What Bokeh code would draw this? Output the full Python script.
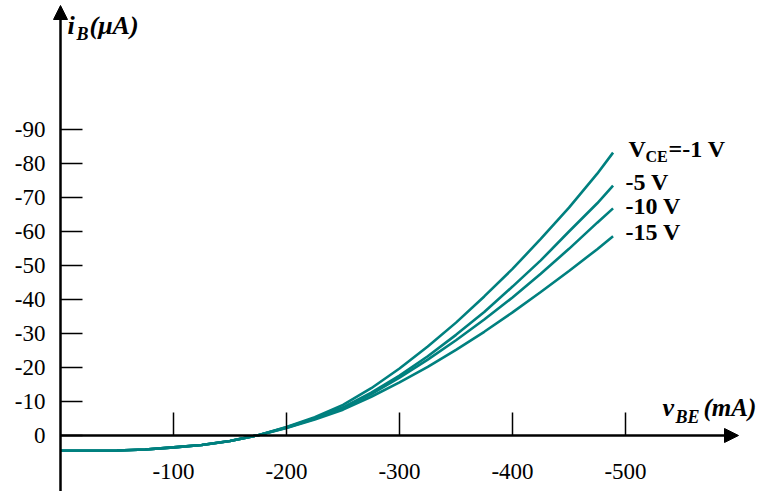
from bokeh.plotting import figure
from bokeh.models import Range1d, LinearAxis, FixedTicker, Arrow, NormalHead
from bokeh.core.properties import value
from bokeh.embed import file_html
from bokeh.resources import INLINE

# ---- data (vBE in mV, iB in uA) ----
vbe = [0, -25, -50, -75, -100, -125, -150, -175, -200, -225, -250, -275, -300,
       -325, -350, -375, -400, -425, -450, -475, -489]
low = [4.5, 4.5, 4.4, 4.1, 3.5, 2.8, 1.6, -0.1]
ib_1 = low + [-2.5, -5.4, -9.0, -13.9, -19.7, -26.2, -33.2, -40.9, -49.0, -57.8, -67.0, -77.0, -83.2]
ib_5 = low + [-2.4, -5.1, -8.3, -12.6, -17.6, -23.3, -29.6, -36.3, -43.8, -51.5, -60.0, -68.3, -73.5]
ib_10 = low + [-2.3, -4.9, -8.0, -12.2, -17.0, -22.3, -28.0, -34.1, -40.6, -47.6, -54.9, -62.6, -66.8]
ib_15 = low + [-2.2, -4.7, -7.6, -11.4, -15.6, -20.2, -25.2, -30.5, -36.2, -42.2, -48.4, -54.8, -58.6]
series = [ib_1, ib_5, ib_10, ib_15]
curve_labels = ["-5 V", "-10 V", "-15 V"]
x_ticks = [-100, -200, -300, -400, -500]
y_ticks = [0, -10, -20, -30, -40, -50, -60, -70, -80, -90]

W, H = 763, 491
# pixel-to-data helpers for annotation placement
def dx(sx):
    return -(sx - 60) / 1.13
def dy(sy):
    return -(435 - sy) / 3.4

p = figure(width=W, height=H, output_backend="svg", toolbar_location=None,
           x_range=Range1d(dx(0), dx(W)), y_range=Range1d(dy(H), dy(0)),
           x_axis_location=None, y_axis_location=None, min_border=0,
           background_fill_color="white", border_fill_color="white")
p.grid.visible = False
p.outline_line_color = None

TEAL = "#00807f"
for s in series:
    p.line(vbe, s, line_color=TEAL, line_width=2.6)

FONT = "Liberation Serif"
yax = LinearAxis(fixed_location=0, ticker=FixedTicker(ticks=y_ticks),
                 major_label_overrides={t: str(t) for t in y_ticks},
                 major_tick_in=22, major_tick_out=0, minor_tick_line_color=None,
                 major_tick_line_width=1.5, axis_line_color=None,
                 major_label_standoff=15, major_label_text_font=FONT,
                 major_label_text_font_size="23px", major_label_text_color="black")
xax = LinearAxis(fixed_location=0, ticker=FixedTicker(ticks=x_ticks),
                 major_label_overrides={t: str(t) for t in x_ticks},
                 major_tick_in=23, major_tick_out=0, minor_tick_line_color=None,
                 major_tick_line_width=1.5, axis_line_color=None,
                 major_label_standoff=28, major_label_text_font=FONT,
                 major_label_text_font_size="23px", major_label_text_color="black")
p.add_layout(yax, "left")
p.add_layout(xax, "below")

p.add_layout(Arrow(x_start=0, y_start=dy(H), x_end=0, y_end=dy(5), line_width=2.5,
                   end=NormalHead(size=14, fill_color="black", line_color="black")))
p.add_layout(Arrow(x_start=0, y_start=0, x_end=dx(738), y_end=0, line_width=2.5,
                   end=NormalHead(size=14, fill_color="black", line_color="black")))

bi = dict(text_font=value(FONT), text_font_style="bold italic", text_color="black",
          text_baseline="alphabetic", text_align="left")
p.text(x=[dx(67)], y=[dy(25)], text=["i"], text_font_size="26px", **bi)
p.text(x=[dx(76)], y=[dy(33)], text=["B"], text_font_size="18px", **bi)
p.text(x=[dx(89)], y=[dy(25)], text=["(μA)"], text_font_size="26px", **bi)
p.text(x=[dx(662)], y=[dy(407)], text=["v"], text_font_size="26px", **bi)
p.text(x=[dx(675)], y=[dy(416)], text=["BE"], text_font_size="18px", **bi)
p.text(x=[dx(703)], y=[dy(407)], text=["(mA)"], text_font_size="25px", **bi)

b = dict(text_font=value(FONT), text_font_style="bold", text_color="black",
         text_baseline="alphabetic", text_align="left")
p.text(x=[dx(628)], y=[dy(148)], text=["V"], text_font_size="24px", **b)
p.text(x=[dx(645)], y=[dy(156)], text=["CE"], text_font_size="16px", **b)
p.text(x=[dx(668)], y=[dy(148)], text=["=-1 V"], text_font_size="24px", **b)
p.text(x=[dx(625)] * 3, y=[dy(181), dy(205), dy(231)], text=curve_labels,
       text_font_size="24px", **b)

open("out.html", "w").write(file_html(p, INLINE))
